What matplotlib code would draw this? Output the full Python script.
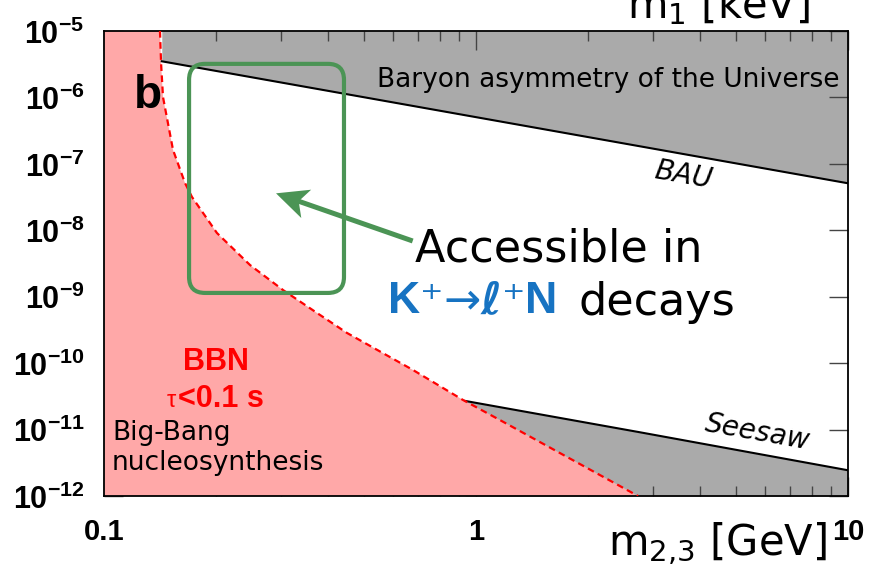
import numpy as np
import matplotlib
matplotlib.use('Agg')
import matplotlib.pyplot as plt
from matplotlib.patches import FancyBboxPatch, Polygon
from matplotlib.lines import Line2D
from matplotlib.transforms import IdentityTransform
from matplotlib.offsetbox import TextArea, HPacker, AnnotationBbox

plt.rcParams['font.family'] = ['DejaVu Sans']
plt.rcParams['mathtext.fontset'] = 'custom'
plt.rcParams['mathtext.rm'] = 'Liberation Sans:bold'
plt.rcParams['mathtext.bf'] = 'Liberation Sans:bold'
plt.rcParams['mathtext.it'] = 'Liberation Sans:bold:italic'

# BBN bound (tau < 0.1 s): mixing vs mass
bbn_m = [0.1414, 0.1424, 0.1441, 0.1533, 0.1651, 0.1724, 0.2012, 0.2469, 0.3029,
         0.3738, 0.4499, 0.677, 0.9227, 1.160, 2.726]
bbn_u = [1e-5, 3.2e-6, 1.01e-6, 1.62e-7, 5.15e-8, 3.17e-8, 9.1e-9, 3.0e-9, 1.26e-9,
         5.69e-10, 2.85e-10, 7.89e-11, 2.79e-11, 1.39e-11, 1e-12]

# baryon asymmetry upper bound
bau_m = [0.143, 10.0]
bau_u = [3.5e-6, 5.1e-8]

# seesaw lower bound
seesaw_m = [0.935, 2.76, 10.0]
seesaw_u = [2.7e-11, 9.1e-12, 2.44e-12]

# region accessible in K decays (green box) and arrow
box_m = [0.1693, 0.4417]
box_u = [1.14e-9, 3.2e-6]
arrow_tail = (0.666, 7.1e-9)
arrow_tip = (0.29, 3.6e-8)

x_ticks = [0.1, 1, 10]
x_labels = ['0.1', '1', '10']
y_ticks = [1e-12, 1e-11, 1e-10, 1e-9, 1e-8, 1e-7, 1e-6, 1e-5]

pink = '#ffa8a8'
gray = '#aaaaaa'
green = '#4b9455'
blue = '#1773c2'

fig = plt.figure(figsize=(8.71, 5.69), dpi=100)
ax = fig.add_axes([104/871, 73/569, 744/871, 465/569])
ax.set_xscale('log')
ax.set_yscale('log')
ax.set_xlim(0.1, 10)
ax.set_ylim(1e-12, 1e-5)

# shaded regions
ax.fill_between(bau_m, bau_u, 1e-5, color=gray, lw=0, zorder=1)
ax.fill_between(seesaw_m, 1e-12, seesaw_u, color=gray, lw=0, zorder=1)
ax.fill(np.r_[0.1, bbn_m, 0.1], np.r_[1e-5, bbn_u, 1e-12], color=pink, lw=0, zorder=2)

ax.plot(bau_m, bau_u, color='black', lw=1.5, zorder=3)
ax.plot(seesaw_m, seesaw_u, color='black', lw=1.5, zorder=3)
ax.plot(bbn_m, bbn_u, color='red', lw=1.6, ls=(0, (3, 2)), zorder=3)

# ticks
ax.set_xticks(x_ticks, labels=x_labels, fontweight='bold',
              fontfamily='Liberation Sans', fontsize=21)
ax.set_yticks(y_ticks, labels=[r'$\mathbf{10^{%d}}$' % round(np.log10(v)) for v in y_ticks],
              fontsize=22)
ax.yaxis.set_minor_locator(matplotlib.ticker.NullLocator())
ax.tick_params(which='both', direction='in', top=True, right=True, color='#444444', width=1)
ax.tick_params(which='major', length=14)
ax.tick_params(which='minor', length=7)
ax.tick_params(axis='x', pad=16)
ax.tick_params(axis='y', pad=14)
for s in ax.spines.values():
    s.set_linewidth(1.3)

# text labels
ax.text(0.059, 0.86, 'b', transform=ax.transAxes, fontsize=33, fontweight='bold',
        fontfamily='Liberation Sans', ha='center', va='center', zorder=5)
ax.text(0.989, 0.88, 'Baryon asymmetry of the Universe', transform=ax.transAxes,
        fontsize=19, ha='right', va='baseline', zorder=5)
ax.text(0.778, 0.69, 'BAU', transform=ax.transAxes, fontsize=20, style='italic',
        rotation=-10, ha='center', va='center', zorder=5)
ax.text(0.878, 0.136, 'Seesaw', transform=ax.transAxes, fontsize=20, style='italic',
        rotation=-10, ha='center', va='center', zorder=5)
ax.text(0.1499, 0.288, 'BBN', transform=ax.transAxes, fontsize=22, fontweight='bold',
        fontfamily='Liberation Sans', color='red', ha='center', va='center', zorder=5)
ax.text(0.0995, 0.1914, '<0.1 s', transform=ax.transAxes, fontsize=22, fontweight='bold',
        fontfamily='Liberation Sans', color='red', ha='left', va='baseline', zorder=5)
ax.text(0.0968, 0.1914, 'τ', transform=ax.transAxes, fontsize=17,
        fontfamily='Liberation Sans', color='red', ha='right', va='baseline', zorder=5)
ax.text(0.0108, 0.12, 'Big-Bang', transform=ax.transAxes, fontsize=19, va='baseline', zorder=5)
ax.text(0.0108, 0.056, 'nucleosynthesis', transform=ax.transAxes, fontsize=19,
        va='baseline', zorder=5)

# axis labels
fig.text(608/871, 1 - 555/569, r'm$_{2{,}3}$ [GeV]', fontsize=30,
         math_fontfamily='dejavusans', va='baseline')
fig.text(627/871, 1 - 18/569, r'm$_{1}$ [keV]', fontsize=30,
         math_fontfamily='dejavusans', va='baseline')

# green box
p0 = ax.transData.transform((box_m[0], box_u[0]))
p1 = ax.transData.transform((box_m[1], box_u[1]))
box = FancyBboxPatch(p0, p1[0] - p0[0], p1[1] - p0[1],
                     boxstyle='round,pad=0,rounding_size=16', fill=False,
                     ec=green, lw=3, transform=IdentityTransform(), zorder=6)
fig.add_artist(box)

# arrow with notched head
tail = ax.transData.transform(arrow_tail)
tip = ax.transData.transform(arrow_tip)
u = (tip - tail) / np.hypot(*(tip - tail))
n = np.array([-u[1], u[0]])
head = np.array([tip, tip - 32*u + 15*n, tip - 24*u, tip - 32*u - 15*n])
shaft_end = tip - 26*u
fig.add_artist(Line2D([tail[0], shaft_end[0]], [tail[1], shaft_end[1]], color=green,
                      lw=3.6, transform=IdentityTransform(), zorder=6))
fig.add_artist(Polygon(head, closed=True, color=green, lw=0,
                       transform=IdentityTransform(), zorder=6))

fig.text(415/871, 1 - 261/569, 'Accessible in', fontsize=32, va='baseline')

bold_k = dict(family='Liberation Sans', weight='bold', size=32, color=blue)
plain = dict(family='DejaVu Sans', size=32, color=blue)
script = dict(family='DejaVu Sans', weight='bold', style='italic', size=32, color=blue)
pieces = [('K', bold_k), ('⁺', plain), ('→', plain), ('ℓ', script), ('⁺', plain), ('N', bold_k)]
packed = HPacker(children=[TextArea(s, textprops=p) for s, p in pieces],
                 align='baseline', pad=0, sep=0)
fig.add_artist(AnnotationBbox(packed, (388/871, 1 - 322/569), xycoords='figure fraction',
                              box_alignment=(0, 0), frameon=False, pad=0))
fig.text(578/871, 1 - 315/569, 'decays', fontsize=32, va='baseline')

fig.savefig('out.png', dpi=100)
